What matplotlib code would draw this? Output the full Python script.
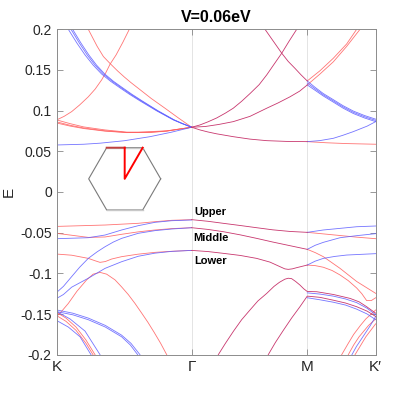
# -*- coding: utf-8 -*-
"""
能带图 - V=0.06eV, K-Γ-M-K' 路径
"""

import numpy as np
import matplotlib
matplotlib.use("Agg")
import matplotlib.pyplot as plt

plt.rcParams['font.family'] = ['Liberation Sans', 'DejaVu Sans']

# 高对称点位置与标签
k_ticks = [0.0, 1.0, 1.856, 2.363]
k_labels = ['K', 'Γ', 'M', 'K′']
e_ticks = [-0.2, -0.15, -0.1, -0.05, 0.0, 0.05, 0.1, 0.15, 0.2]
title = 'V=0.06eV'

# ---- 正能量部分 (k, E) ----
red_flat_a = [(0, 0.0886), (0.1, 0.084), (0.2, 0.080), (0.358, 0.0763), (0.519, 0.0736),
              (0.604, 0.0735), (0.815, 0.0752), (1.0, 0.0796)]
red_flat_b = [(0, 0.0862), (0.1, 0.082), (0.2, 0.0787), (0.358, 0.0752), (0.519, 0.0732),
              (0.7, 0.0735), (0.815, 0.0750), (1.0, 0.0796)]
red_flat_c = [(0, 0.0848), (0.1, 0.081), (0.2, 0.0780), (0.358, 0.0748), (0.519, 0.0730),
              (0.7, 0.0733), (0.815, 0.0748), (1.0, 0.0796)]
blue_flat = [(0, 0.0578), (0.2, 0.0587), (0.321, 0.060), (0.5, 0.063), (0.691, 0.068),
             (0.85, 0.0735), (1.0, 0.0796)]
red_steep_k = [(0, 0.0886), (0.055, 0.093), (0.111, 0.0988), (0.17, 0.107), (0.234, 0.117),
               (0.285, 0.1265), (0.333, 0.1378), (0.365, 0.147), (0.395, 0.157),
               (0.44, 0.1685), (0.49, 0.184), (0.538, 0.2)]
red_down_g = [(0.234, 0.2), (0.27, 0.1885), (0.30, 0.179), (0.346, 0.1665), (0.395, 0.158),
              (0.45, 0.149), (0.5, 0.1415), (0.55, 0.1345), (0.604, 0.1275), (0.7, 0.115),
              (0.802, 0.103), (0.9, 0.0912), (1.0, 0.0796)]
blue_down_g1 = [(0.086, 0.2), (0.15, 0.183), (0.210, 0.1685), (0.27, 0.156), (0.333, 0.145),
                (0.4, 0.136), (0.469, 0.128), (0.54, 0.120), (0.617, 0.112), (0.74, 0.0998),
                (0.864, 0.0886), (0.93, 0.084), (1.0, 0.0796)]
blue_down_g2 = [(0.106, 0.2), (0.168, 0.183), (0.226, 0.1685), (0.284, 0.156), (0.346, 0.145),
                (0.412, 0.136), (0.480, 0.128), (0.55, 0.120), (0.626, 0.112), (0.746, 0.0998),
                (0.868, 0.0886), (0.932, 0.084), (1.0, 0.0796)]
blue_down_g3 = [(0.118, 0.2), (0.180, 0.183), (0.238, 0.1685), (0.295, 0.156), (0.356, 0.145),
                (0.421, 0.136), (0.489, 0.128), (0.558, 0.120), (0.633, 0.112), (0.751, 0.0998),
                (0.871, 0.0886), (0.934, 0.084), (1.0, 0.0796)]
mix_steep_m = [(1.0, 0.0796), (1.061, 0.0824), (1.12, 0.0862), (1.185, 0.091), (1.25, 0.097),
               (1.308, 0.103), (1.37, 0.1115), (1.432, 0.121), (1.5, 0.132), (1.556, 0.144),
               (1.61, 0.157), (1.667, 0.1706), (1.72, 0.185), (1.778, 0.2)]
mix_down_m = [(1.543, 0.2), (1.602, 0.186), (1.667, 0.1706), (1.715, 0.1605), (1.765, 0.152),
              (1.81, 0.144), (1.856, 0.1365)]
mix_mod_m = [(1.0, 0.0796), (1.1, 0.0805), (1.2, 0.083), (1.308, 0.0865), (1.432, 0.093),
             (1.556, 0.103), (1.64, 0.1095), (1.728, 0.117), (1.8, 0.124), (1.856, 0.1316)]
mix_low_m = [(1.0, 0.0796), (1.061, 0.0763), (1.12, 0.0738), (1.185, 0.0715), (1.308, 0.068),
             (1.432, 0.065), (1.556, 0.0631), (1.7, 0.0622), (1.856, 0.0619)]
red_low_kp = [(1.856, 0.0619), (2.0, 0.0605), (2.15, 0.0595), (2.363, 0.0587)]
blue_up_kp = [(1.856, 0.0619), (1.95, 0.0632), (2.049, 0.066), (2.12, 0.0697), (2.197, 0.0742),
              (2.3, 0.081), (2.363, 0.0865)]
red_up_kp1 = [(1.856, 0.1365), (1.95, 0.149), (2.049, 0.1644), (2.148, 0.182), (2.222, 0.2)]
red_up_kp2 = [(1.856, 0.1316), (1.95, 0.145), (2.049, 0.160), (2.148, 0.179), (2.247, 0.2)]
blue_kp1 = [(1.856, 0.1365), (1.915, 0.1285), (1.975, 0.121), (2.049, 0.1135), (2.12, 0.1062),
            (2.197, 0.0995), (2.28, 0.094), (2.363, 0.0895)]
blue_kp2 = [(1.856, 0.1340), (1.915, 0.1267), (1.975, 0.1195), (2.049, 0.112), (2.12, 0.1047),
            (2.197, 0.098), (2.28, 0.0925), (2.363, 0.0880)]
blue_kp3 = [(1.856, 0.1316), (1.915, 0.1249), (1.975, 0.118), (2.049, 0.1105), (2.12, 0.1032),
            (2.197, 0.0965), (2.28, 0.091), (2.363, 0.0865)]

# ---- 负能量部分 (k, E) ----
red_a = [(0, -0.0423), (0.358, -0.0406), (0.604, -0.0385), (0.728, -0.0365), (0.852, -0.0348),
         (1.0, -0.0340)]
blue_c = [(0, -0.0574), (0.234, -0.0562), (0.358, -0.0529), (0.481, -0.0467), (0.604, -0.0414),
          (0.728, -0.0373), (0.852, -0.0353), (1.0, -0.0344)]
red_b = [(0, -0.0508), (0.234, -0.0558), (0.358, -0.0553), (0.481, -0.052), (0.604, -0.049),
         (0.728, -0.0467), (0.852, -0.045), (1.0, -0.0439)]
blue_d = [(0, -0.1234), (0.05, -0.116), (0.111, -0.104), (0.17, -0.0925), (0.234, -0.0816),
          (0.3, -0.0735), (0.358, -0.0673), (0.42, -0.0615), (0.481, -0.057), (0.604, -0.0508),
          (0.728, -0.0475), (0.852, -0.0455), (1.0, -0.0439)]
blue_d2 = [(0, -0.1308), (0.05, -0.126), (0.111, -0.117), (0.234, -0.106), (0.358, -0.0939),
           (0.481, -0.0857), (0.604, -0.079), (0.728, -0.0752), (0.852, -0.0730), (1.0, -0.0718)]
red_e = [(0, -0.0763), (0.111, -0.0777), (0.234, -0.0816), (0.284, -0.0845), (0.321, -0.0865),
         (0.36, -0.0855), (0.407, -0.0824), (0.481, -0.0795), (0.6, -0.0765), (0.728, -0.0742),
         (0.86, -0.0728), (1.0, -0.0718)]
upper_gm = [(1.0, -0.0340), (1.12, -0.036), (1.234, -0.0385), (1.36, -0.0412), (1.481, -0.0439),
            (1.6, -0.0465), (1.728, -0.0485), (1.856, -0.0496)]
middle_gm = [(1.0, -0.0439), (1.12, -0.046), (1.234, -0.0488), (1.36, -0.0527), (1.481, -0.057),
             (1.6, -0.0615), (1.728, -0.066), (1.856, -0.0705)]
lower_gm = [(1.0, -0.0718), (1.12, -0.0732), (1.234, -0.0754), (1.36, -0.078), (1.481, -0.0816),
            (1.58, -0.0862), (1.654, -0.0918), (1.69, -0.0945), (1.715, -0.0951),
            (1.745, -0.0945), (1.778, -0.093), (1.856, -0.0898)]
blue_up_mk = [(1.856, -0.0496), (1.975, -0.0467), (2.099, -0.0447), (2.222, -0.0427), (2.363, -0.0418)]
red_up_mk = [(1.856, -0.0496), (1.975, -0.0515), (2.099, -0.0535), (2.222, -0.0555), (2.363, -0.0574)]
blue_mid_mk = [(1.856, -0.0705), (1.915, -0.0655), (1.975, -0.0619), (2.099, -0.0562),
               (2.222, -0.0537), (2.363, -0.0512)]
blue_low_mk = [(1.856, -0.0898), (1.915, -0.085), (1.975, -0.0816), (2.06, -0.0792),
               (2.148, -0.0775), (2.363, -0.0758)]
red_f = [(1.856, -0.0705), (1.915, -0.0745), (1.975, -0.0795), (2.099, -0.0939), (2.222, -0.110),
         (2.363, -0.1246)]
red_g = [(1.856, -0.0898), (1.915, -0.0905), (1.975, -0.0925), (2.04, -0.0965), (2.099, -0.102),
         (2.16, -0.109), (2.222, -0.118), (2.26, -0.125), (2.296, -0.1335), (2.33, -0.1335),
         (2.363, -0.130)]
red_peak_k = [(0, -0.153), (0.04, -0.146), (0.086, -0.137), (0.15, -0.122), (0.222, -0.108),
              (0.27, -0.101), (0.321, -0.0988), (0.37, -0.101), (0.432, -0.108), (0.48, -0.1165),
              (0.53, -0.126), (0.58, -0.137), (0.630, -0.149), (0.675, -0.160), (0.72, -0.172),
              (0.77, -0.186), (0.815, -0.2)]
mix_peak_m = [(1.197, -0.2), (1.25, -0.186), (1.31, -0.171), (1.37, -0.157), (1.432, -0.145),
              (1.49, -0.134), (1.556, -0.1246), (1.61, -0.116), (1.65, -0.111), (1.69, -0.1072),
              (1.715, -0.106), (1.74, -0.1065), (1.77, -0.110), (1.802, -0.1144), (1.83, -0.119),
              (1.856, -0.1223), (1.926, -0.1226), (2.05, -0.126), (2.173, -0.1308),
              (2.24, -0.135), (2.296, -0.141), (2.363, -0.149)]
mix_rise_m = [(1.567, -0.2), (1.62, -0.185), (1.679, -0.170), (1.74, -0.155), (1.802, -0.141),
              (1.856, -0.128), (1.95, -0.1295), (2.049, -0.133), (2.14, -0.1365),
              (2.222, -0.141), (2.3, -0.1465), (2.363, -0.153)]
blue_mk_a = [(1.856, -0.1240), (1.95, -0.1255), (2.049, -0.1280), (2.14, -0.1315),
             (2.222, -0.136), (2.3, -0.143), (2.363, -0.151)]
blue_mk_b = [(1.856, -0.1300), (1.95, -0.1325), (2.049, -0.1355), (2.14, -0.139),
             (2.222, -0.144), (2.3, -0.150), (2.363, -0.157)]
red_h = [(2.111, -0.2), (2.16, -0.186), (2.2, -0.175), (2.25, -0.164), (2.29, -0.156),
         (2.363, -0.145)]
red_i = [(2.160, -0.2), (2.2, -0.188), (2.24, -0.178), (2.31, -0.164), (2.363, -0.156)]
blue_j = [(2.187, -0.2), (2.22, -0.19), (2.26, -0.180), (2.32, -0.165), (2.363, -0.153)]
red_k2 = [(2.21, -0.2), (2.25, -0.189), (2.29, -0.178), (2.363, -0.162)]
blue_k1 = [(0, -0.145), (0.12, -0.149), (0.234, -0.155), (0.36, -0.164), (0.481, -0.176),
           (0.55, -0.186), (0.617, -0.2)]
blue_k2 = [(0, -0.147), (0.12, -0.151), (0.234, -0.157), (0.36, -0.166), (0.481, -0.178),
           (0.545, -0.188), (0.600, -0.2)]
red_s1 = [(0, -0.148), (0.069, -0.155), (0.143, -0.166), (0.217, -0.182), (0.284, -0.2)]
red_s2 = [(0, -0.152), (0.069, -0.159), (0.143, -0.170), (0.217, -0.186), (0.269, -0.2)]
blue_s3 = [(0, -0.158), (0.086, -0.166), (0.173, -0.178), (0.254, -0.2)]
blue_s4 = [(0, -0.147), (0.0985, -0.156), (0.210, -0.171), (0.321, -0.2)]

red_bands = [red_flat_a, red_flat_b, red_flat_c, red_steep_k, red_down_g, red_low_kp,
             red_up_kp1, red_up_kp2, red_a, red_b, red_e, red_up_mk, red_f, red_g, red_peak_k,
             red_h, red_i, red_k2, red_s1, red_s2]
blue_bands = [blue_flat, blue_down_g1, blue_down_g2, blue_down_g3, blue_up_kp,
              blue_kp1, blue_kp2, blue_kp3, blue_c, blue_d, blue_d2, blue_up_mk, blue_mid_mk,
              blue_low_mk, blue_mk_a, blue_mk_b, blue_j, blue_k1, blue_k2, blue_s3, blue_s4]
mix_bands = [mix_steep_m, mix_down_m, mix_mod_m, mix_low_m, upper_gm, middle_gm, lower_gm,
             mix_peak_m, mix_rise_m]

# 能带标注
band_names = ['Upper', 'Middle', 'Lower']
band_name_pos = [(1.14, -0.0242), (1.14, -0.057), (1.14, -0.0849)]

# 布里渊区示意 (六边形顶点角度, 路径 M-Γ-K')
bz_angles = [0, 60, 120, 180, 240, 300, 360]
bz_path = [(0.0, 0.866), (0.0, 0.0), (0.5, 0.866)]

fig = plt.figure(figsize=(4.15, 3.98), dpi=100)
ax = fig.add_axes([0.1366, 0.1088, 0.7687, 0.8176])

lw = 0.6
for b in red_bands:
    k, e = zip(*b)
    ax.plot(k, e, color='#ff5c5c', lw=lw, alpha=0.85)
for b in blue_bands:
    k, e = zip(*b)
    ax.plot(k, e, color='#5c5cff', lw=lw, alpha=0.85)
for b in mix_bands:
    k, e = zip(*b)
    ax.plot(k, e, color='#c8376e', lw=lw)

for name, (kx, ey) in zip(band_names, band_name_pos):
    ax.text(kx, ey, name, ha='center', va='center', fontsize=8, fontweight='bold')

ax.set_xlim(k_ticks[0], k_ticks[-1])
ax.set_ylim(-0.2, 0.2)
ax.set_xticks(k_ticks)
ax.set_xticklabels(k_labels)
ax.set_yticks(e_ticks)
ax.set_yticklabels([f'{v:g}' for v in e_ticks])
ax.tick_params(direction='in', length=4, width=0.6, color='#888888', labelsize=10,
               labelcolor='#262626', top=True, right=True)
ax.tick_params(axis='x', pad=4, labelsize=11)
ax.grid(axis='x', color='#e4e4e4', lw=0.7)
ax.set_axisbelow(True)
for s in ax.spines.values():
    s.set_color('#8c8c8c')
    s.set_linewidth(0.7)
ax.set_ylabel('E', fontsize=11, color='#262626')
ax.yaxis.set_label_coords(-0.128, 0.5)
ax.set_title(title, fontsize=11.5, fontweight='bold', pad=5)

# 插图: 布里渊区
ins = fig.add_axes([0.2137, 0.4724, 0.1735, 0.1565])
ins.set_xlim(-1, 1)
ins.set_ylim(-0.866, 0.866)
ins.axis('off')
a = np.deg2rad(bz_angles)
hx, hy = np.cos(a), np.sin(a)
ins.plot(hx, hy, color='#7a7a7a', lw=0.8, clip_on=False)
ins.plot(hx[1:3], hy[1:3], color='#c8c8c8', lw=1.0, clip_on=False)
ins.plot(hx[4:6], hy[4:6], color='#c8c8c8', lw=1.0, clip_on=False)
ins.plot([hx[2], bz_path[0][0]], [hy[2], bz_path[0][1]], color='#c04040', lw=1.4, clip_on=False)
px, py = zip(*bz_path)
ins.plot(px, py, color='red', lw=1.4, clip_on=False)

plt.savefig('out.png', dpi=100)
plt.close(fig)
